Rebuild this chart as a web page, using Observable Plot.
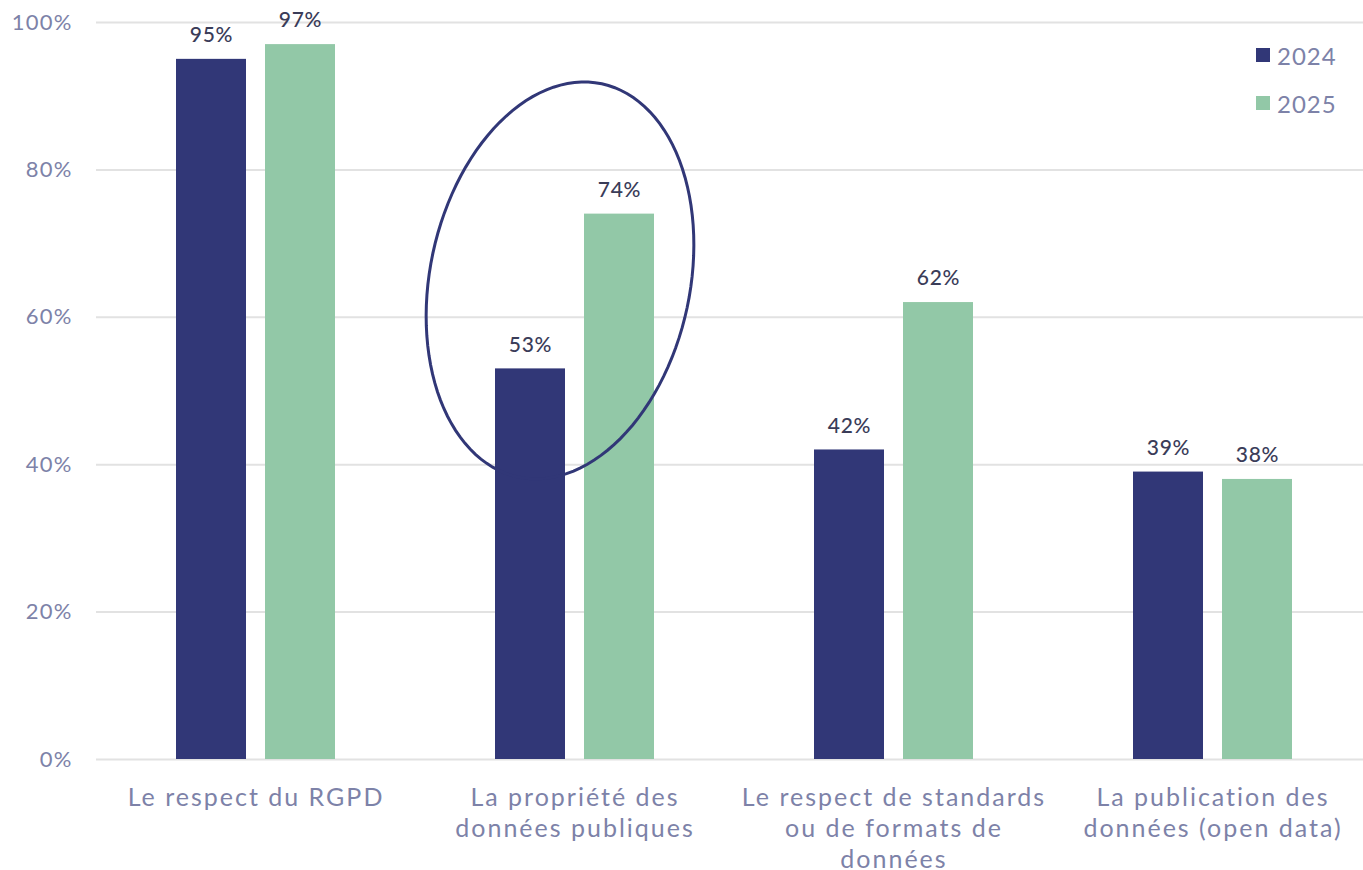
<!DOCTYPE html>
<html>
<head>
<meta charset="utf-8">
<script src="https://cdn.jsdelivr.net/npm/d3@7"></script>
<script src="https://cdn.jsdelivr.net/npm/@observablehq/plot@0.6"></script>
<style>
  html, body { margin: 0; padding: 0; background: white; overflow: hidden; }
  #wrap { position: relative; width: 1363px; height: 870px; overflow: hidden; }
  #chart svg { max-width: none !important; }
  #chart svg g[font-size="25"] { letter-spacing: 2px; }
  #chart svg g[font-size="22"] { letter-spacing: 1.2px; }
  #chart svg g[font-size="21"] { letter-spacing: 0.8px; }
  #legend { position: absolute; left: 1256px; top: 40px; font-family: Lato, sans-serif; font-size: 24px; color: #7d82a8; letter-spacing: 1px; }
  #legend .row { display: flex; align-items: center; height: 30px; margin-bottom: 18px; }
  #legend .sw { width: 14px; height: 14px; margin-right: 7px; }
</style>
</head>
<body>
<div id="wrap">
  <div id="chart"></div>
  <div id="legend"></div>
</div>
<script>
const categories = [
  "Le respect du RGPD",
  "La propriété des données publiques",
  "Le respect de standards ou de formats de données",
  "La publication des données (open data)"
];
const categoryLabels = [
  "Le respect du RGPD",
  "La propriété des\ndonnées publiques",
  "Le respect de standards\nou de formats de\ndonnées",
  "La publication des\ndonnées (open data)"
];
const years = ["2024", "2025"];
const values2024 = [95, 53, 42, 39];
const values2025 = [97, 74, 62, 38];
const yTicks = [0, 20, 40, 60, 80, 100];
const colors = ["#313777", "#92c8a7"];
const highlighted = categories[1];

const data = [];
categories.forEach((c, i) => {
  data.push({category: c, year: years[0], value: values2024[i]});
  data.push({category: c, year: years[1], value: values2025[i]});
});

const ellipseSymbol = {
  draw(ctx) {
    const a = 130, b = 201, th = 12 * Math.PI / 180, N = 120;
    for (let i = 0; i <= N; i++) {
      const t = 2 * Math.PI * i / N;
      const ex = a * Math.cos(t), ey = b * Math.sin(t);
      const x = ex * Math.cos(th) - ey * Math.sin(th);
      const y = ex * Math.sin(th) + ey * Math.cos(th);
      if (i === 0) ctx.moveTo(x, y); else ctx.lineTo(x, y);
    }
    ctx.closePath();
  }
};

const textColor = "#7d82a8";

const chart = Plot.plot({
  width: 1372,
  height: 870,
  marginTop: 22,
  marginBottom: 111,
  marginLeft: 96,
  marginRight: 0,
  style: {fontFamily: "Lato, sans-serif", background: "white", maxWidth: "none"},
  fx: {domain: categories, padding: 0, axis: null, label: null},
  x: {domain: years, paddingInner: 0.211, paddingOuter: 0.878, axis: null},
  y: {domain: [0, 100], axis: null},
  color: {domain: years, range: colors},
  marks: [
    Plot.gridY(yTicks, {stroke: "#e2e2e2", strokeOpacity: 1, strokeWidth: 2}),
    Plot.axisY(yTicks, {tickSize: 0, tickPadding: 24, tickFormat: d => d + "%", fontSize: 22, color: textColor, label: null}),
    Plot.barY(data, {fx: "category", x: "year", y: "value", fill: "year"}),
    Plot.text(data, {fx: "category", x: "year", y: "value", text: d => d.value + "%", dy: -24, fontSize: 21, fontWeight: 500, fill: "#3a3c58"}),
    Plot.text(categories, {fx: d => d, text: (d, i) => categoryLabels[i], frameAnchor: "bottom", lineAnchor: "top", dy: 24, fontSize: 25, lineHeight: 1.25, fill: textColor}),
    Plot.dot([highlighted], {fx: d => d, y: () => 65, dx: -15, symbol: ellipseSymbol, stroke: colors[0], strokeWidth: 3, fill: "none"})
  ]
});
document.getElementById("chart").appendChild(chart);

const legend = document.getElementById("legend");
years.forEach((y, i) => {
  const row = document.createElement("div");
  row.className = "row";
  const sw = document.createElement("div");
  sw.className = "sw";
  sw.style.background = colors[i];
  const lab = document.createElement("span");
  lab.textContent = y;
  row.appendChild(sw);
  row.appendChild(lab);
  legend.appendChild(row);
});
</script>
</body>
</html>
